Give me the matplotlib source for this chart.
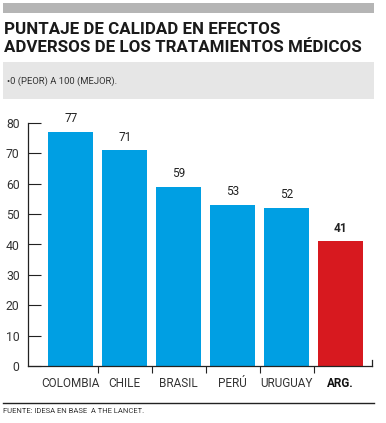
import matplotlib.pyplot as plt
from matplotlib.patches import Rectangle
from matplotlib.lines import Line2D

# Data
paises = ['COLOMBIA', 'CHILE', 'BRASIL', 'PERÚ', 'URUGUAY', 'ARG.']
puntaje = [77, 71, 59, 53, 52, 41]
colores = ['#009fe3'] * 5 + ['#d7191f']
yticks = [0, 10, 20, 30, 40, 50, 60, 70, 80]

plt.rcParams['font.family'] = ['Roboto', 'DejaVu Sans']

W, H = 386, 423
fig = plt.figure(figsize=(W / 100, H / 100), dpi=100)

# header decorations (figure pixel coords -> fraction)
def fx(x):
    return x / W

def fy(y):
    return 1 - y / H

fig.patches.append(Rectangle((fx(3), fy(13)), fx(371), 10 / H, transform=fig.transFigure,
                             facecolor='#b5b5b5', edgecolor='none'))
fig.text(fx(4), fy(29), 'PUNTAJE DE CALIDAD EN EFECTOS', fontsize=12.2, fontweight='bold',
         color='#1a1a1a', va='center', ha='left')
fig.text(fx(4), fy(47), 'ADVERSOS DE LOS TRATAMIENTOS MÉDICOS', fontsize=12.2, fontweight='bold',
         color='#1a1a1a', va='center', ha='left')
fig.patches.append(Rectangle((fx(3), fy(99)), fx(371), 37 / H, transform=fig.transFigure,
                             facecolor='#e6e6e6', edgecolor='none'))
fig.text(fx(7), fy(81), '•0 (PEOR) A 100 (MEJOR).', fontsize=6.8, color='#333333',
         va='center', ha='left')

# chart
ax = fig.add_axes([fx(28), fy(366), fx(372 - 28), (366 - 123) / H])
x = list(range(len(paises)))
ax.bar(x, puntaje, width=0.83, color=colores)
ax.set_xlim(-0.79, 5.58)
ax.set_ylim(0, 80)
ax.set_yticks(yticks)
ax.set_xticks(x)
ax.set_xticklabels(paises)
ax.set_xticks([i + 0.5 for i in range(5)], minor=True)
ax.tick_params(axis='x', which='major', length=0, pad=8, labelsize=8.5, labelcolor='#333333')
ax.tick_params(axis='x', which='minor', length=5, direction='out', width=0.8, color='#222222')
ax.tick_params(axis='y', length=9, direction='in', width=0.8, labelsize=8.8,
               labelcolor='#333333', color='#222222', pad=6)
lab = ax.get_xticklabels()[-1]
lab.set_fontweight('bold')
lab.set_color('#111111')
for s in ['top', 'right']:
    ax.spines[s].set_visible(False)
for s in ['left', 'bottom']:
    ax.spines[s].set_linewidth(0.9)
    ax.spines[s].set_color('#222222')
ax.add_line(Line2D([1, 1], [0, 0.025], transform=ax.transAxes, color='#222222',
                   lw=0.9, clip_on=False))

for i, v in enumerate(puntaje):
    bold = i == len(puntaje) - 1
    ax.text(i, v + 2.2, str(v), ha='center', va='bottom', fontsize=8.5,
            fontweight='bold' if bold else 'normal', color='#222222')

# footer
fig.add_artist(Line2D([fx(3), fx(374)], [fy(403), fy(403)], transform=fig.transFigure,
                      color='#222222', lw=1))
fig.text(fx(3), fy(411), 'FUENTE: IDESA EN BASE  A THE LANCET.', fontsize=5.5, color='#333333',
         va='center', ha='left')

fig.savefig('out.png', dpi=100)
